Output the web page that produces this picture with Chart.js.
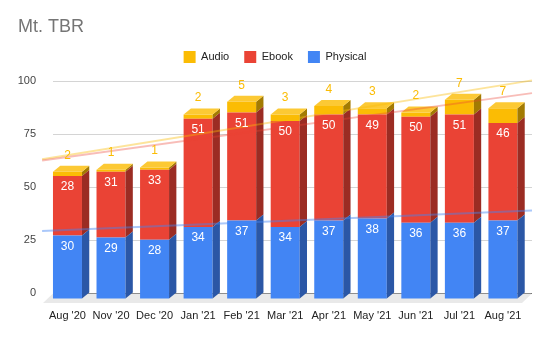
<!DOCTYPE html>
<html>
<head>
<meta charset="utf-8">
<script src="https://cdn.jsdelivr.net/npm/chart.js@4.4.0/dist/chart.umd.min.js"></script>
<style>
  html, body { margin: 0; background: #fff; }
  #wrap { width: 550px; height: 340px; }
</style>
</head>
<body>
<div id="wrap"><canvas id="tbrChart"></canvas></div>
<script>
const months = ["Aug '20", "Nov '20", "Dec '20", "Jan '21", "Feb '21", "Mar '21", "Apr '21", "May '21", "Jun '21", "Jul '21", "Aug '21"];
const physical = [30, 29, 28, 34, 37, 34, 37, 38, 36, 36, 37];
const ebook = [28, 31, 33, 51, 51, 50, 50, 49, 50, 51, 46];
const audio = [2, 1, 1, 2, 5, 3, 4, 3, 2, 7, 7];
const yTicks = [0, 25, 50, 75, 100];

const FONT = "'Liberation Sans', Arial, sans-serif";
const DX = -7.3, DY = 6; // front face sits in front of the back wall
const sideColors = ['#2b57a6', '#9b2c23', '#a37b02'];
const topColor = '#fcc934';

// linear trend of the stacked totals, drawn on the back wall
function trend(vals) {
  const n = vals.length, mx = (n - 1) / 2;
  const my = vals.reduce((a, b) => a + b, 0) / n;
  let sxy = 0, sxx = 0;
  vals.forEach((v, i) => { sxy += (i - mx) * (v - my); sxx += (i - mx) * (i - mx); });
  const k = sxy / sxx;
  return [-0.75, 10.5].map(x => ({ x: x, y: my + k * (x - mx) }));
}
const sumPE = physical.map((v, i) => v + ebook[i]);
const sumAll = sumPE.map((v, i) => v + audio[i]);

const threeD = {
  id: 'threeD',
  beforeDatasetsDraw(chart) {
    const ctx = chart.ctx, a = chart.chartArea;
    const y0 = chart.scales.y.getPixelForValue(0);
    ctx.save();
    ctx.fillStyle = '#e9e9e9';
    ctx.beginPath();
    ctx.moveTo(a.left, y0 + 0.5);
    ctx.lineTo(a.right, y0 + 0.5);
    ctx.lineTo(a.right - 10, y0 + 10);
    ctx.lineTo(a.left - 10, y0 + 10);
    ctx.closePath();
    ctx.fill();
    ctx.restore();
  },
  beforeDatasetDraw(chart, args) {
    if (args.index > 2) return;
    chart.ctx.save();
    chart.ctx.translate(DX, DY);
  },
  afterDatasetDraw(chart, args) {
    if (args.index > 2) return;
    const ctx = chart.ctx;
    args.meta.data.forEach(el => {
      const p = el.getProps(['x', 'y', 'base', 'width'], true);
      const r = p.x + p.width / 2, l = p.x - p.width / 2;
      ctx.fillStyle = sideColors[args.index];
      ctx.beginPath();
      ctx.moveTo(r, p.y);
      ctx.lineTo(r - DX, p.y - DY);
      ctx.lineTo(r - DX, p.base - DY);
      ctx.lineTo(r, p.base);
      ctx.closePath();
      ctx.fill();
      if (args.index === 2) {
        ctx.fillStyle = topColor;
        ctx.beginPath();
        ctx.moveTo(l, p.y);
        ctx.lineTo(r, p.y);
        ctx.lineTo(r - DX, p.y - DY);
        ctx.lineTo(l - DX, p.y - DY);
        ctx.closePath();
        ctx.fill();
      }
    });
    ctx.restore();
  },
  afterDatasetsDraw(chart) {
    const ctx = chart.ctx;
    ctx.save();
    ctx.font = '12px ' + FONT;
    ctx.textAlign = 'center';
    ctx.textBaseline = 'middle';
    [0, 1, 2].forEach(di => {
      const meta = chart.getDatasetMeta(di);
      const vals = chart.data.datasets[di].data;
      meta.data.forEach((el, i) => {
        const x = el.x + DX;
        if (di === 2) {
          ctx.fillStyle = '#fbbc04';
          ctx.fillText(vals[i], x, el.y + DY - 16.5);
        } else {
          ctx.fillStyle = '#ffffff';
          ctx.fillText(vals[i], x, el.y + DY + 11);
        }
      });
    });
    ctx.restore();
  }
};

const ctx = document.getElementById('tbrChart').getContext('2d');
const chart = new Chart(ctx, {
  type: 'bar',
  data: {
    labels: months,
    datasets: [
      { label: 'Physical', data: physical, backgroundColor: '#4285f4', xAxisID: 'x' },
      { label: 'Ebook', data: ebook, backgroundColor: '#ea4335', xAxisID: 'x' },
      { label: 'Audio', data: audio, backgroundColor: '#fbbc04', xAxisID: 'x' },
      { type: 'line', label: 'tp', data: trend(physical), xAxisID: 'xt', stack: 't1', order: -1,
        borderColor: 'rgba(66,133,244,0.45)', borderWidth: 2, pointRadius: 0, clip: false },
      { type: 'line', label: 'te', data: trend(sumPE), xAxisID: 'xt', stack: 't2', order: -1,
        borderColor: 'rgba(234,67,53,0.35)', borderWidth: 2, pointRadius: 0, clip: false },
      { type: 'line', label: 'ta', data: trend(sumAll), xAxisID: 'xt', stack: 't3', order: -1,
        borderColor: 'rgba(251,188,4,0.4)', borderWidth: 2, pointRadius: 0, clip: false }
    ]
  },
  options: {
    responsive: true,
    maintainAspectRatio: false,
    animation: false,
    layout: { padding: { left: 18, right: 18, top: 0, bottom: 0 } },
    datasets: { bar: { grouped: false, categoryPercentage: 1, barPercentage: 0.666, borderWidth: 0 } },
    scales: {
      x: {
        stacked: true,
        offset: true,
        grid: { display: false, drawTicks: false },
        border: { display: false },
        ticks: { labelOffset: DX, padding: 16, color: '#222', font: { family: FONT, size: 11 }, maxRotation: 0, autoSkip: false },
        afterFit: s => { s.height = 47; }
      },
      xt: { type: 'linear', display: false, offset: false, bounds: 'data', min: -0.5, max: 10.5, grid: { offset: false } },
      y: {
        stacked: true,
        min: yTicks[0],
        max: yTicks[yTicks.length - 1],
        afterBuildTicks: s => { s.ticks = yTicks.map(v => ({ value: v })); },
        grid: { drawTicks: false, color: c => (c.tick && c.tick.value === 0 ? '#333333' : '#d4d4d4') },
        border: { display: false },
        ticks: { padding: 17, color: '#444', font: { family: FONT, size: 11 } },
        afterFit: s => { s.width = 35; }
      }
    },
    plugins: {
      title: {
        display: true, text: 'Mt. TBR', align: 'start', color: '#757575',
        font: { family: FONT, size: 18, weight: 'normal', lineHeight: 1 },
        padding: { top: 18, bottom: 0 }
      },
      subtitle: { display: true, text: '', weight: 500, font: { size: 1, lineHeight: 1 }, padding: { top: 0, bottom: 7 } },
      legend: {
        position: 'top',
        reverse: true,
        labels: {
          boxWidth: 12, boxHeight: 12, padding: 15, color: '#222',
          font: { family: FONT, size: 11 },
          filter: item => item.datasetIndex < 3
        }
      },
      tooltip: { enabled: false }
    }
  },
  plugins: [threeD]
});
</script>
</body>
</html>
